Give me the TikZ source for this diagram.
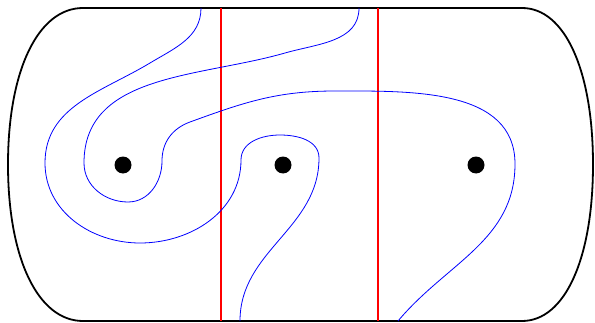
\documentclass[tikz,border=0pt]{standalone}
\usepackage{tikz}
\usetikzlibrary{calc}

\begin{document}
\begin{tikzpicture}[
  x=1pt, y=1pt,
  rim/.style={draw=black, line width=1.8pt},
  cutline/.style={draw=red, line width=1.6pt},
  strand/.style={draw=blue, line width=0.8pt},
  puncture/.style={circle, fill=black, inner sep=0pt, minimum size=17pt}
]
\useasboundingbox (0,0) rectangle (595,322);

%% Outer boundary
\draw[rim] (83,314) -- (522,314)
  .. controls (565,314) and (593,251.4) .. (593,157.5)
  .. controls (593,63.6) and (565,1) .. (522,1)
  -- (83,1)
  .. controls (38,1) and (8,63.6) .. (8,157.5)
  .. controls (8,251.4) and (38,314) .. (83,314) -- cycle;

%% Punctures
\node[puncture] (p1) at (123,157) {};
\node[puncture] (p2) at (283,157) {};
\node[puncture] (p3) at (476,157) {};

%% Cuts
\coordinate (c1t) at (221,314);
\coordinate (c1b) at (221,1);
\coordinate (c2t) at (378,314);
\coordinate (c2b) at (378,1);
\draw[cutline] (c1t) -- (c1b);
\draw[cutline] (c2t) -- (c2b);

%% First blue arc
\draw[strand] (201,314) to[out=270,in=31] (150,259)
  to[out=211,in=90] (45,159)
  to[out=270,in=180] (140,79)
  to[out=0,in=270] (241,162)
  to[out=90,in=180] (280,187)
  to[out=0,in=90] (319,164)
  to[out=270,in=90] (240,1);

%% Second blue arc
\draw[strand] (359,314) to[out=270,in=16] (285,269)
  to[out=196,in=90] (84,159)
  to[out=270,in=180] (128,120)
  to[out=0,in=270] (162,161)
  to[out=90,in=200] (190,200)
  to[out=20,in=180] (335,231)
  to[out=0,in=90] (515,158)
  to[out=270,in=50] (398,1);

\end{tikzpicture}
\end{document}
